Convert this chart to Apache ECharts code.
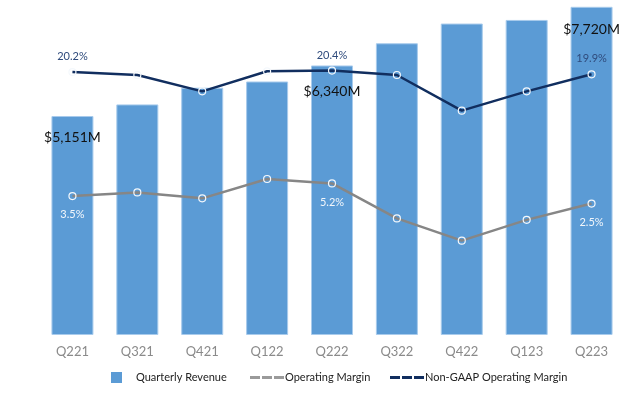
<!DOCTYPE html>
<html>
<head>
<meta charset="utf-8">
<script src="https://cdn.jsdelivr.net/npm/echarts@6/dist/echarts.min.js"></script>
<style>html,body{margin:0;padding:0;background:#fff}#c{width:640px;height:394px}</style>
</head>
<body>
<div id="c"></div>
<script>
var categories = ['Q221','Q321','Q421','Q122','Q222','Q322','Q422','Q123','Q223'];
var revenue = [5151, 5424, 5817, 5963, 6340, 6862, 7326, 7411, 7720];
var opMargin = [3.5, 4.0, 3.2, 5.8, 5.2, 0.5, -2.5, 0.3, 2.5];
var nonGaapMargin = [20.2, 19.8, 17.6, 20.3, 20.4, 19.8, 15.0, 17.6, 19.9];
var labelled = [0, 4, 8];

var BAR = '#5b9bd5', GRAY = '#868686', NAVY = '#112e5f';
var FONT = 'Lato';

var barDistance = {0: 14, 4: 19, 8: 16};
var barData = revenue.map(function (v, i) {
  var o = {value: v};
  if (labelled.indexOf(i) >= 0) o.label = {show: true, distance: barDistance[i]};
  return o;
});
var opData = opMargin.map(function (v, i) {
  var o = {value: v};
  if (labelled.indexOf(i) >= 0) o.label = {show: true};
  return o;
});
var ngData = nonGaapMargin.map(function (v, i) {
  var o = {value: v};
  if (labelled.indexOf(i) >= 0) o.label = {show: true};
  return o;
});

var dashIcon = 'path://M0,0h10v3h-10z M12,0h10v3h-10z M24,0h10v3h-10z';

var chart = echarts.init(document.getElementById('c'));
chart.setOption({
  animation: false,
  textStyle: {fontFamily: FONT},
  grid: {left: 40, width: 584, top: 0, bottom: 59, containLabel: false},
  xAxis: {
    type: 'category', data: categories,
    axisLine: {show: false}, axisTick: {show: false},
    axisLabel: {color: '#8a8a8a', fontSize: 13, fontFamily: FONT, margin: 10}
  },
  yAxis: [
    {type: 'value', min: 0, max: 7880, show: false, splitLine: {show: false}},
    {type: 'value', min: -15.2, max: 29.9, show: false, splitLine: {show: false}}
  ],
  legend: [
    {left: 106, top: 367, itemWidth: 11, itemHeight: 11, itemGap: 0,
     textStyle: {fontSize: 11, color: '#222', fontFamily: FONT, padding: [0, 0, 0, 9]},
     data: [{name: 'Quarterly Revenue', icon: 'rect', itemStyle: {color: BAR, borderWidth: 0}}]},
    {left: 245, top: 367, itemWidth: 34, itemHeight: 3, itemGap: 0,
     textStyle: {fontSize: 11, color: '#222', fontFamily: FONT, padding: [0, 0, 0, -4]},
     data: [{name: 'Operating Margin', icon: dashIcon,
             itemStyle: {color: '#9a9a9a', borderWidth: 0}, lineStyle: {width: 0}}]},
    {left: 385, top: 367, itemWidth: 34, itemHeight: 3, itemGap: 0,
     textStyle: {fontSize: 11, color: '#222', fontFamily: FONT, padding: [0, 0, 0, -4]},
     data: [{name: 'Non-GAAP Operating Margin', icon: dashIcon,
             itemStyle: {color: NAVY, borderWidth: 0}, lineStyle: {width: 0}}]}
  ],
  series: [
    {
      name: 'Quarterly Revenue', type: 'bar', data: barData, barWidth: 42,
      itemStyle: {color: BAR, borderColor: '#a8cbec', borderWidth: 1},
      label: {show: false, position: 'insideTop', color: '#111', fontSize: 14, fontFamily: FONT,
        formatter: function (p) { return '$' + p.value.toLocaleString('en-US') + 'M'; }}
    },
    {
      name: 'Operating Margin', type: 'line', yAxisIndex: 1, data: opData,
      lineStyle: {color: GRAY, width: 2.5},
      symbol: 'circle', symbolSize: 7,
      itemStyle: {color: 'rgba(0,0,0,0)', borderColor: '#f4f8fc', borderWidth: 1.2},
      label: {show: false, position: 'bottom', distance: 9, color: '#f2f6fb', fontSize: 11, fontFamily: FONT,
        formatter: function (p) { return p.value.toFixed(1) + '%'; }},
      z: 3
    },
    {
      name: 'Non-GAAP Operating Margin', type: 'line', yAxisIndex: 1, data: ngData,
      lineStyle: {color: NAVY, width: 2.5},
      symbol: 'circle', symbolSize: 7,
      itemStyle: {color: 'rgba(0,0,0,0)', borderColor: '#f4f8fc', borderWidth: 1.2},
      label: {show: false, position: 'top', distance: 6, color: '#2f4b7c', fontSize: 11, fontFamily: FONT,
        formatter: function (p) { return p.value.toFixed(1) + '%'; }},
      z: 4
    }
  ]
});
</script>
</body>
</html>
